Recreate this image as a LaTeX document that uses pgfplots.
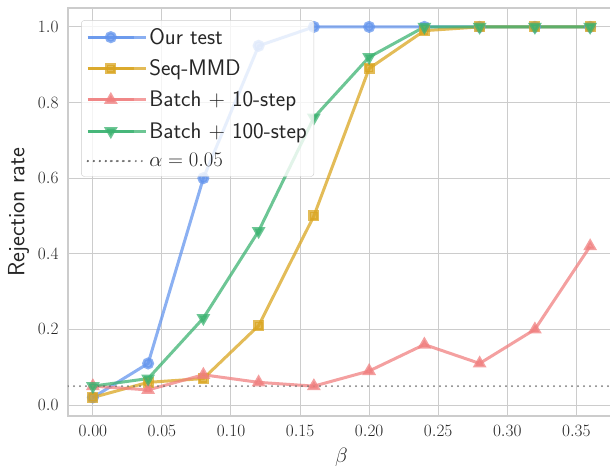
\documentclass[border=0pt]{standalone}
\usepackage{pgfplots}
\pgfplotsset{compat=1.18}
\definecolor{cblue}{RGB}{100,149,237}
\definecolor{cgold}{RGB}{218,165,32}
\definecolor{ccoral}{RGB}{240,128,128}
\definecolor{cgreen}{RGB}{60,179,113}
\definecolor{gridgrey}{RGB}{204,204,204}
\begin{document}
\begin{tikzpicture}
\begin{axis}[
  name=ax,
  scale only axis,
  width=547pt, height=408pt,
  xmin=-0.018, xmax=0.378,
  ymin=-0.029, ymax=1.05,
  xtick={0,0.05,0.1,0.15,0.2,0.25,0.3,0.35},
  ytick={0,0.2,0.4,0.6,0.8,1.0},
  xticklabel style={/pgf/number format/fixed,/pgf/number format/fixed zerofill,/pgf/number format/precision=2},
  yticklabel style={/pgf/number format/fixed,/pgf/number format/fixed zerofill,/pgf/number format/precision=1},
  scaled ticks=false,
  tick style={draw=none},
  major tick length=0pt,
  grid=major,
  grid style={gridgrey, line width=1pt},
  axis line style={gridgrey, line width=1.2pt},
  tick label style={font=\fontsize{19}{22}\selectfont, text=black!85},
  xticklabel shift=6pt,
  yticklabel shift=6pt,
  label style={font=\fontsize{23.5}{28}\selectfont\sffamily, text=black!85},
  xlabel={$\beta$},
  ylabel={Rejection rate},
  xlabel style={font=\fontsize{20}{24}\selectfont, yshift=-5pt},
  ylabel style={yshift=2pt},
  legend cell align=left,
  legend style={at={(0.024,0.97)}, anchor=north west, fill=white, fill opacity=0.8, text opacity=1, draw=gridgrey, rounded corners=3pt, font=\fontsize{22.5}{27}\selectfont\sffamily, row sep=10pt, inner xsep=5pt, inner ysep=6pt, text=black!85},
  legend image code/.code={\path (0pt,0pt) -- (58pt,0pt); \draw[#1] (0pt,0pt) -- (23pt,0pt) plot coordinates {(23pt,0pt)} -- (46pt,0pt);},
  every axis plot/.append style={line width=3pt, opacity=0.75},
]
\addplot[color=cblue, mark=*, mark size=4.5pt] coordinates {
(0,0.02)(0.04,0.11)(0.08,0.60)(0.12,0.95)(0.16,1.0)(0.20,1.0)(0.24,1.0)(0.28,1.0)(0.32,1.0)(0.36,1.0)};
\addlegendentry{Our test}
\addplot[color=cgold, mark=square*, mark size=4pt] coordinates {
(0,0.02)(0.04,0.06)(0.08,0.07)(0.12,0.21)(0.16,0.50)(0.20,0.89)(0.24,0.99)(0.28,1.0)(0.32,1.0)(0.36,1.0)};
\addlegendentry{Seq-MMD}
\addplot[color=ccoral, mark=triangle*, mark size=5pt] coordinates {
(0,0.05)(0.04,0.04)(0.08,0.08)(0.12,0.06)(0.16,0.05)(0.20,0.09)(0.24,0.16)(0.28,0.11)(0.32,0.20)(0.36,0.42)};
\addlegendentry{Batch + 10-step}
\addplot[color=cgreen, mark=triangle*, mark options={rotate=180}, mark size=5pt] coordinates {
(0,0.05)(0.04,0.07)(0.08,0.23)(0.12,0.46)(0.16,0.76)(0.20,0.92)(0.24,1.0)(0.28,1.0)(0.32,1.0)(0.36,1.0)};
\addlegendentry{Batch + 100-step}
\addplot[color=black!60, line width=2.2pt, line cap=round, dash pattern=on 0pt off 6pt, opacity=0.9] coordinates {(-0.018,0.05)(0.378,0.05)};
\addlegendentry{\fontsize{21.5}{26}\selectfont$\alpha=0.05$}
\end{axis}
\pgfresetboundingbox
\path ([xshift=-68pt,yshift=-52pt]ax.south west) rectangle ([xshift=542pt,yshift=8pt]ax.north west);
\end{tikzpicture}
\end{document}
